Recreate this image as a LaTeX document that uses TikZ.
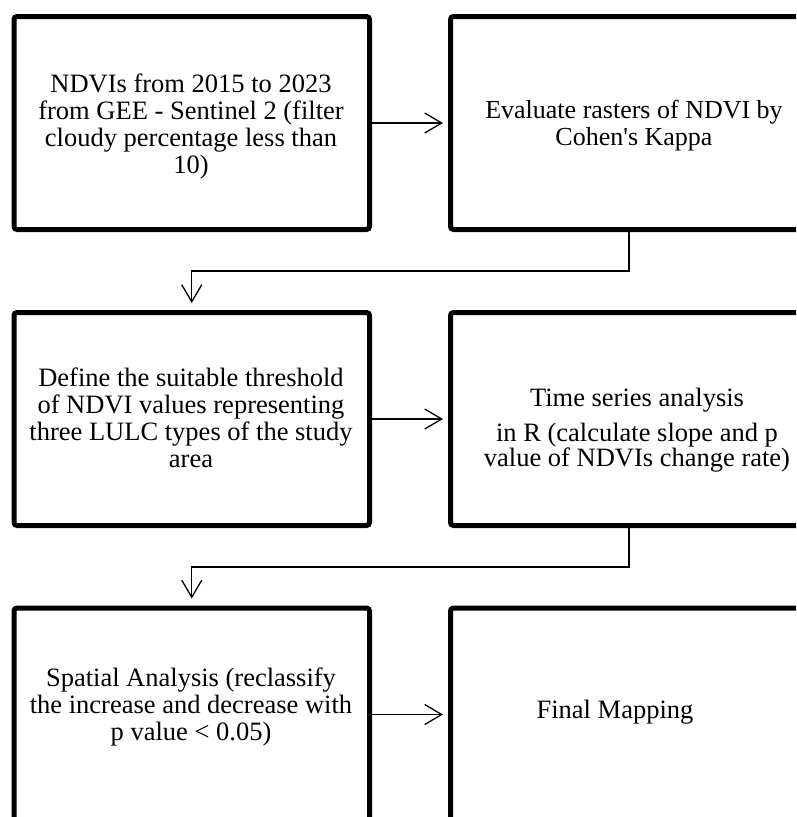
\documentclass[tikz,border=0pt]{standalone}
\usepackage{fontspec}
\setmainfont{Liberation Serif}
\usetikzlibrary{arrows.meta}
\begin{document}
\begin{tikzpicture}[x=1pt,y=-1pt,
  box/.style={draw,line width=5pt,rounded corners=3pt,minimum width=355.5pt,minimum height=213pt,inner sep=0pt},
  rbox/.style={box,minimum width=357pt},
  txt/.style={align=center,inner sep=0pt,font=\fontsize{26.5}{27}\selectfont},
  conn/.style={line width=1.3pt,-{Straight Barb[length=17pt,width=20pt]},shorten >=5pt}
]
\useasboundingbox (0,0) rectangle (796,817);
\begin{scope}
\clip (0,0) rectangle (796,817);
\node[box] (b1) at (191.75,123) {};
\node[rbox] (b2) at (629,123) {};
\node[box] (b3) at (191.75,419) {};
\node[rbox] (b4) at (629,419) {};
\node[box] (b5) at (191.75,714.5) {};
\node[rbox] (b6) at (629,714.5) {};

\node[txt] (t1) at (191,126.5) {NDVIs from 2015 to 2023\\from GEE - Sentinel 2 (filter\\cloudy percentage less than\\10)};
\node[txt,font=\fontsize{26}{27}\selectfont] (t2) at (634,126) {Evaluate rasters of NDVI by\\Cohen\textquotesingle s Kappa};
\node[txt] (t3) at (191,418) {Define the suitable threshold\\of NDVI values representing\\three LULC types of the study\\area};
\node[txt,font=\fontsize{26.5}{25}\selectfont] (t4) at (637,430) {Time series analysis\\[10pt]in R (calculate slope and p\\value of NDVIs change rate)};
\node[txt] (t5) at (191,707) {Spatial Analysis (reclassify\\the increase and decrease with\\p value {<} 0.05)};
\node[txt] (t6) at (615,712) {Final Mapping};

\draw[conn] (b1.east) -- (b2.west);
\draw[conn] (b3.east) -- (b4.west);
\draw[conn] (b5.east) -- (b6.west);

\coordinate (k1) at (629,271);
\coordinate (k2) at (629,567);
\draw[conn,shorten >=7pt] (b2.south) -- (k1) -| (b3.north);
\draw[conn,shorten >=7pt] (b4.south) -- (k2) -| (b5.north);
\end{scope}
\end{tikzpicture}
\end{document}
